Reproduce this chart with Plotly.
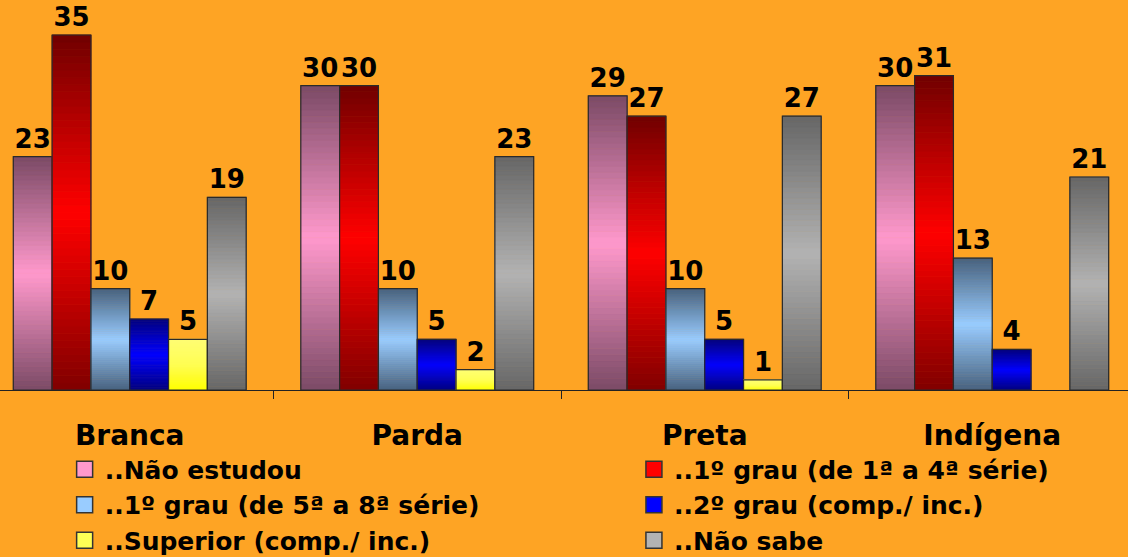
import plotly.graph_objects as go

# data
categories = ["Branca", "Parda", "Preta", "Indígena"]
nao_estudou = [23, 30, 29, 30]
grau1_1a4 = [35, 30, 27, 31]
grau1_5a8 = [10, 10, 10, 13]
grau2 = [7, 5, 5, 4]
superior = [5, 2, 1, None]
nao_sabe = [19, 23, 27, 21]

series_names = [
    "..Não estudou",
    "..1º grau (de 1ª a 4ª série)",
    "..1º grau (de 5ª a 8ª série)",
    "..2º grau (comp./ inc.)",
    "..Superior (comp./ inc.)",
    "..Não sabe",
]
series_values = [nao_estudou, grau1_1a4, grau1_5a8, grau2, superior, nao_sabe]
legend_of = ["legend", "legend2", "legend", "legend2", "legend", "legend2"]

# gradient stops: bottom, middle, top
stops = [
    ("#7b4a66", "#ff99cc", "#7b4a66"),
    ("#800000", "#ff0000", "#700000"),
    ("#48627e", "#99ccff", "#48627e"),
    ("#000080", "#0000ff", "#000080"),
    ("#ffff00", "#ffff55", "#ffff75"),
    ("#666666", "#b3b3b3", "#666666"),
]

BG = "#fea424"
FONT = "DejaVu Sans"
N_BANDS = 50


def hex_rgb(h):
    h = h.lstrip("#")
    return [int(h[i:i + 2], 16) for i in (0, 2, 4)]


def mix(c1, c2, t):
    a, b = hex_rgb(c1), hex_rgb(c2)
    return "rgb(%d,%d,%d)" % tuple(round(a[i] + (b[i] - a[i]) * t) for i in range(3))


def band_color(st, f):
    # f: 0 at bottom, 1 at top
    bottom, middle, top = st
    if f < 0.5:
        return mix(bottom, middle, f / 0.5)
    return mix(middle, top, (f - 0.5) / 0.5)


fig = go.Figure()

for name, vals, st, lg in zip(series_names, series_values, stops, legend_of):
    # vertical gradient made of thin stacked slices
    for k in range(N_BANDS):
        c = band_color(st, (k + 0.5) / N_BANDS)
        fig.add_trace(go.Bar(
            x=categories,
            y=[v / N_BANDS if v is not None else None for v in vals],
            base=[v * k / N_BANDS if v is not None else None for v in vals],
            offsetgroup=name, legendgroup=name, showlegend=False,
            hoverinfo="skip",
            marker=dict(color=c, line=dict(color=c, width=0.8)),
        ))
    # outline + value labels on top
    fig.add_trace(go.Bar(
        x=categories, y=vals, offsetgroup=name, legendgroup=name,
        showlegend=False,
        marker=dict(color="rgba(0,0,0,0)", line=dict(color="#2a2a2a", width=1.2)),
        text=[str(v) if v is not None else "" for v in vals],
        textposition="outside", constraintext="none", cliponaxis=False,
        textfont=dict(family=FONT, size=26, color="black", weight="bold"),
        hovertemplate="%{x}: %{y}<extra>" + name + "</extra>",
    ))
    # legend swatch (larger square than the bar legend symbol)
    fig.add_trace(go.Scatter(
        x=[None], y=[None], mode="markers", name=name, legend=lg,
        legendgroup=name, hoverinfo="skip",
        marker=dict(symbol="square", size=16, color=st[1],
                    line=dict(color="#333333", width=1.5)),
    ))

fig.update_xaxes(
    range=[-0.4513, 3.4722], automargin=False,
    showline=True, linecolor="#222222", linewidth=1,
    ticks="outside", tickson="boundaries", ticklen=8, tickcolor="#222222",
    ticklabelstandoff=20, tickangle=0,
    tickfont=dict(family=FONT, size=28, color="black", weight="bold"),
    showgrid=False, zeroline=False,
)
fig.update_yaxes(range=[0, 38.45], visible=False, showgrid=False,
                 automargin=False)

legend_style = dict(
    xref="paper", yref="container", yanchor="top", orientation="v",
    bgcolor="rgba(0,0,0,0)", borderwidth=0, traceorder="grouped",
    tracegroupgap=0, itemsizing="trace",
    font=dict(family=FONT, size=25, color="black", weight="bold"),
)
fig.update_layout(
    width=1128, height=557,
    paper_bgcolor=BG, plot_bgcolor=BG,
    barmode="group", bargap=0.19, bargroupgap=0,
    margin=dict(l=0, r=0, t=0, b=167),
    showlegend=True,
    legend=dict(x=0.0573, y=0.1984, **legend_style),
    legend2=dict(x=0.562, y=0.1984, **legend_style),
)

fig.write_html(
    "out.html",
    config={"displayModeBar": False},
    post_script="document.body.style.margin='0';document.body.style.overflow='hidden';",
)
